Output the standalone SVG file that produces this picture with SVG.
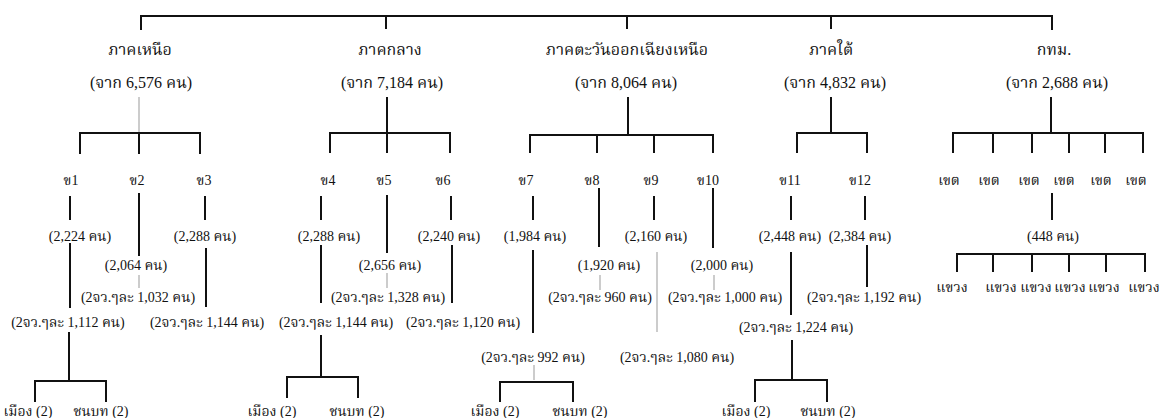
<svg xmlns="http://www.w3.org/2000/svg" width="1165" height="418" viewBox="0 0 1165 418">
<style>
text{font-family:"Liberation Serif","Noto Serif Thai","Noto Sans Thai",serif;font-size:14px;fill:#111;text-anchor:middle}
.r{font-size:16px}
.k{stroke:#111;stroke-width:2;fill:none}
.g{stroke:#999;stroke-width:1;fill:none}
</style>
<rect width="1165" height="418" fill="#fff"/>
<g id="connectors">
<path class="k" d="M141,30V16H1052V30M386,16V29M627,16V29M831,16V29"/>
<path class="g" d="M139,97V133"/>
<path class="k" d="M80,154V133H200V154M139,133V154"/>
<path class="k" d="M70,196V220M70,243V308M69,332V381M35,402V381H106V402"/>
<path class="k" d="M139,193V256"/><path class="g" d="M139,275V288"/>
<path class="k" d="M205,196V220M206,248V307"/>
<path class="k" d="M387,97V153M330,153V133H450V153"/>
<path class="k" d="M321,196V220M321,245V303M321,335V377M287,398V377H358V398"/>
<path class="k" d="M387,195V253"/><path class="g" d="M387,273V288"/>
<path class="k" d="M451,196V220M452,245V303"/>
<path class="k" d="M628,97V135M530,153V135H713V153M597,135V153M654,135V153"/>
<path class="k" d="M533,196V220M533,250V333"/><path class="g" d="M534,365V380"/>
<path class="k" d="M500,402V382H573V402"/>
<path class="k" d="M599,188V247"/><path class="g" d="M600,275V290"/>
<path class="k" d="M654,196V220"/><path class="g" d="M657,252V332"/>
<path class="k" d="M713,188V248"/><path class="g" d="M714,275V290"/>
<path class="k" d="M831,97V133M797,153V133H867V153"/>
<path class="k" d="M791,196V220M791,252V315M792,340V380M755,402V380H827V402"/>
<path class="k" d="M865,196V220M867,245V287"/>
<path class="k" d="M1051,97V133M953,153V133H1143V153M993,133V153M1032,133V153M1069,133V153M1105,133V153"/>
<path class="k" d="M1052,193V220M957,272V254H1145V272M993,254V272M1032,254V272M1069,254V272M1106,254V272"/>
</g>
<g id="north"><text class="r" x="140" y="55">ภาคเหนือ</text><text class="r" x="141" y="88">(จาก 6,576 คน)</text></g>
<g id="central"><text class="r" x="390" y="55">ภาคกลาง</text><text class="r" x="392" y="88">(จาก 7,184 คน)</text></g>
<g id="northeast"><text class="r" x="627" y="55">ภาคตะวันออกเฉียงเหนือ</text><text class="r" x="626" y="88">(จาก 8,064 คน)</text></g>
<g id="south"><text class="r" x="831" y="55">ภาคใต้</text><text class="r" x="835" y="88">(จาก 4,832 คน)</text></g>
<g id="bkk"><text class="r" x="1054" y="55">กทม.</text><text class="r" x="1057" y="88">(จาก 2,688 คน)</text></g>
<g id="k1"><text x="71" y="185">ข1</text><text x="80" y="241">(2,224 คน)</text><text x="68" y="327">(2จว.ๆละ 1,112 คน)</text></g>
<g id="k2"><text x="137" y="185">ข2</text><text x="136" y="270">(2,064 คน)</text><text x="138" y="302">(2จว.ๆละ 1,032 คน)</text></g>
<g id="k3"><text x="204" y="185">ข3</text><text x="205" y="241">(2,288 คน)</text><text x="207" y="327">(2จว.ๆละ 1,144 คน)</text></g>
<g id="k4"><text x="328" y="185">ข4</text><text x="329" y="241">(2,288 คน)</text><text x="336" y="327">(2จว.ๆละ 1,144 คน)</text></g>
<g id="k5"><text x="384" y="185">ข5</text><text x="390" y="270">(2,656 คน)</text><text x="388" y="302">(2จว.ๆละ 1,328 คน)</text></g>
<g id="k6"><text x="443" y="185">ข6</text><text x="449" y="241">(2,240 คน)</text><text x="463" y="327">(2จว.ๆละ 1,120 คน)</text></g>
<g id="k7"><text x="526" y="185">ข7</text><text x="535" y="241">(1,984 คน)</text><text x="533" y="362">(2จว.ๆละ 992 คน)</text></g>
<g id="k8"><text x="592" y="185">ข8</text><text x="609" y="270">(1,920 คน)</text><text x="600" y="302">(2จว.ๆละ 960 คน)</text></g>
<g id="k9"><text x="651" y="185">ข9</text><text x="656" y="241">(2,160 คน)</text><text x="677" y="362">(2จว.ๆละ 1,080 คน)</text></g>
<g id="k10"><text x="708" y="185">ข10</text><text x="722" y="270">(2,000 คน)</text><text x="725" y="302">(2จว.ๆละ 1,000 คน)</text></g>
<g id="k11"><text x="790" y="185">ข11</text><text x="790" y="241">(2,448 คน)</text><text x="796" y="332">(2จว.ๆละ 1,224 คน)</text></g>
<g id="k12"><text x="860" y="185">ข12</text><text x="860" y="241">(2,384 คน)</text><text x="864" y="302">(2จว.ๆละ 1,192 คน)</text></g>
<g id="khet"><text x="949" y="185">เขต</text><text x="989" y="185">เขต</text><text x="1029" y="185">เขต</text><text x="1064" y="185">เขต</text><text x="1101" y="185">เขต</text><text x="1136" y="185">เขต</text><text x="1053" y="241">(448 คน)</text></g>
<g id="khwaeng"><text x="952" y="292">แขวง</text><text x="1001" y="292">แขวง</text><text x="1036" y="292">แขวง</text><text x="1070" y="292">แขวง</text><text x="1104" y="292">แขวง</text><text x="1144" y="292">แขวง</text></g>
<g id="b1"><text x="28" y="416">เมือง (2)</text><text x="101" y="416">ชนบท (2)</text></g>
<g id="b2"><text x="272" y="416">เมือง (2)</text><text x="357" y="416">ชนบท (2)</text></g>
<g id="b3"><text x="495" y="416">เมือง (2)</text><text x="580" y="416">ชนบท (2)</text></g>
<g id="b4"><text x="746" y="416">เมือง (2)</text><text x="828" y="416">ชนบท (2)</text></g>
</svg>
